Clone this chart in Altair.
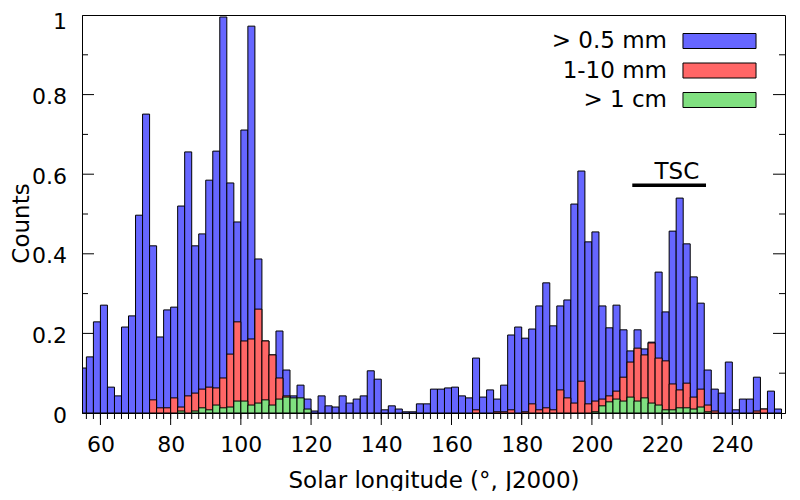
import altair as alt
import pandas as pd

# ---------------- data ----------------
bin_start = list(range(54, 254, 2))   # 2-degree bins, start values
bin_width = 2

blue_vals = [
    0.113, 0.141, 0.229, 0.271, 0.065, 0.043, 0.216, 0.244, 0.497, 0.751,   # 54-72
    0.420, 0.191, 0.259, 0.266, 0.520, 0.656, 0.420, 0.450, 0.585, 0.658,   # 74-92
    0.995, 0.578, 0.480, 0.711, 0.972, 0.387, 0.181, 0.146, 0.206, 0.108,   # 94-112
    0.043, 0.070, 0.035, 0.005, 0.043, 0.018, 0.015, 0.043, 0.025, 0.035,   # 114-132
    0.043, 0.106, 0.085, 0.008, 0.018, 0.010, 0.003, 0.003, 0.023, 0.023,   # 134-152
    0.060, 0.060, 0.063, 0.065, 0.043, 0.038, 0.138, 0.040, 0.058, 0.035,   # 154-172
    0.070, 0.196, 0.216, 0.188, 0.211, 0.269, 0.327, 0.219, 0.269, 0.284,   # 174-192
    0.525, 0.608, 0.430, 0.455, 0.269, 0.214, 0.271, 0.209, 0.156, 0.209,   # 194-212
    0.161, 0.178, 0.354, 0.254, 0.457, 0.540, 0.425, 0.342, 0.276, 0.108,   # 214-232
    0.060, 0.050, 0.128, 0.008, 0.035, 0.035, 0.090, 0.010, 0.055, 0.010,   # 234-252
]

red_start = [74, 76, 78, 80, 82, 84, 86, 88, 90, 92, 94, 96, 98, 100, 102, 104,
             106, 108, 110, 112, 166, 172, 174, 176, 180, 182, 184, 186, 188,
             190, 192, 194, 196, 198, 200, 202, 204, 206, 208, 210, 212, 214,
             216, 218, 220, 222, 224, 226, 228, 230, 232, 234, 246, 248]
red_vals = [0.033, 0.013, 0.013, 0.038, 0.015, 0.043, 0.050, 0.060, 0.065, 0.063,
            0.088, 0.148, 0.229, 0.181, 0.186, 0.261, 0.181, 0.146, 0.088, 0.043,
            0.008, 0.003, 0.003, 0.008, 0.003, 0.023, 0.008, 0.013, 0.008,
            0.058, 0.038, 0.025, 0.080, 0.023, 0.030, 0.035, 0.043, 0.055, 0.090,
            0.128, 0.163, 0.146, 0.176, 0.138, 0.131, 0.073, 0.058, 0.075, 0.040,
            0.060, 0.020, 0.005, 0.005, 0.010]

green_start = [82, 86, 88, 90, 92, 94, 96, 98, 100, 102, 104, 106, 108, 110, 112,
               114, 116, 118, 200, 202, 204, 206, 208, 210, 212, 214, 216, 218,
               220, 222, 224, 226, 228, 230, 232]
green_vals = [0.005, 0.005, 0.013, 0.008, 0.020, 0.013, 0.015, 0.030, 0.030, 0.020,
              0.025, 0.033, 0.020, 0.035, 0.040, 0.038, 0.038, 0.010, 0.003, 0.018,
              0.028, 0.035, 0.030, 0.040, 0.030, 0.038, 0.025, 0.020, 0.008, 0.008,
              0.013, 0.013, 0.010, 0.015, 0.003]

series_names = ["> 0.5 mm", "1-10 mm", "> 1 cm"]
series_colors = ["#6666ff", "#ff6666", "#80e080"]

x_domain = [54.75, 255.0]
y_domain = [0, 1]

x_major = [60, 80, 100, 120, 140, 160, 180, 200, 220, 240]
x_minor = list(range(56, 256, 2))
y_major = [0.2, 0.4, 0.6, 0.8]
y_minor = [0.1, 0.3, 0.5, 0.7, 0.9]
y_labels = [0, 0.2, 0.4, 0.6, 0.8, 1]

tsc_label = ["TSC"]
tsc_start = [211.5]
tsc_end = [232.5]
tsc_line_y = [0.572]
tsc_text_x = [224.2]
tsc_text_y = [0.606]

# ---------------- build tables ----------------
def frame(starts, vals, name):
    return pd.DataFrame({"start": starts,
                         "end": [s + bin_width for s in starts],
                         "value": vals,
                         "series": name})

bars_df = pd.concat([frame(bin_start, blue_vals, series_names[0]),
                     frame(red_start, red_vals, series_names[1]),
                     frame(green_start, green_vals, series_names[2])],
                    ignore_index=True)

W, H = 703, 398
FONT = "DejaVu Sans"

xs = alt.Scale(domain=x_domain, nice=False, zero=False)
ys = alt.Scale(domain=y_domain, nice=False)

x_axis = alt.Axis(values=x_major, format="d", title="Solar longitude (°, J2000)",
                  ticks=False, tickSize=0, labelPadding=21.5, grid=False,
                  labelFont=FONT, labelFontSize=22, labelColor="black",
                  titleFont=FONT, titleFontSize=23, titleFontWeight="normal",
                  titleColor="black", titleBaseline="alphabetic", titleY=74,
                  domain=True, domainColor="black", domainWidth=1, zindex=1,
                  labelFlush=False)
y_axis = alt.Axis(values=y_labels, format="~g", title="Counts",
                  ticks=False, tickSize=0, labelPadding=15.5, grid=False,
                  labelFont=FONT, labelFontSize=22, labelColor="black",
                  labelBaseline="middle",
                  labelOffset={"condition": {"test": "datum.value === 1", "value": 6.5},
                               "value": 2},
                  labelFlush=False,
                  titleFont=FONT, titleFontSize=23, titleFontWeight="normal",
                  titleColor="black", titleAngle=270, titleBaseline="alphabetic",
                  titleAlign="center", titleX=-54, titleY=208,
                  domain=True, domainColor="black", domainWidth=1, zindex=1)

# ticks (drawn through the scales)
xmin_df = pd.DataFrame({"v": x_minor})
xmaj_df = pd.DataFrame({"v": x_major})
ymin_df = pd.DataFrame({"v": y_minor})
ymaj_df = pd.DataFrame({"v": y_major})

tick_style = dict(color="black", strokeWidth=1)
xt_minor = alt.Chart(xmin_df).mark_rule(**tick_style).encode(
    x=alt.X("v:Q", scale=xs, axis=x_axis), y=alt.value(H), y2=alt.value(H + 6))
xt_major = alt.Chart(xmaj_df).mark_rule(**tick_style).encode(
    x=alt.X("v:Q", scale=xs), y=alt.value(H), y2=alt.value(H + 12))
yl_minor = alt.Chart(ymin_df).mark_rule(**tick_style).encode(
    y=alt.Y("v:Q", scale=ys, axis=y_axis), x=alt.value(0), x2=alt.value(6))
yl_major = alt.Chart(ymaj_df).mark_rule(**tick_style).encode(
    y=alt.Y("v:Q", scale=ys), x=alt.value(0), x2=alt.value(12))
yr_minor = alt.Chart(ymin_df).mark_rule(**tick_style).encode(
    y=alt.Y("v:Q", scale=ys), x=alt.value(W - 6), x2=alt.value(W))
yr_major = alt.Chart(ymaj_df).mark_rule(**tick_style).encode(
    y=alt.Y("v:Q", scale=ys), x=alt.value(W - 12), x2=alt.value(W))

bars = alt.Chart(bars_df).mark_rect(stroke="black", strokeWidth=1, clip=True,
                                     opacity=1).encode(
    x=alt.X("start:Q", scale=xs),
    x2="end:Q",
    y=alt.Y("value:Q", scale=ys),
    y2=alt.datum(0),
    fill=alt.Fill("series:N",
                  scale=alt.Scale(domain=series_names, range=series_colors),
                  legend=alt.Legend(orient="none", legendX=626, legendY=14.5,
                                    title=None,
                                    symbolType="M-4.87,-1H4.87V1H-4.87Z",
                                    symbolSize=225, symbolStrokeColor="black",
                                    symbolStrokeWidth=1, symbolOpacity=1,
                                    labelFont=FONT, labelFontSize=23,
                                    labelColor="black", labelAlign="right",
                                    labelOffset={"expr": "-64"}, rowPadding=5.5,
                                    labelLimit=300)),
)

tsc_df = pd.DataFrame({"x": tsc_start, "x2": tsc_end, "y": tsc_line_y,
                       "tx": tsc_text_x, "ty": tsc_text_y, "label": tsc_label})
tsc_line = alt.Chart(tsc_df).mark_rule(color="black", strokeWidth=3.5,
                                       strokeCap="butt").encode(
    x=alt.X("x:Q", scale=xs), x2="x2:Q", y=alt.Y("y:Q", scale=ys))
tsc_text = alt.Chart(tsc_df).mark_text(font=FONT, fontSize=23, color="black",
                                       baseline="middle", align="center").encode(
    x=alt.X("tx:Q", scale=xs), y=alt.Y("ty:Q", scale=ys), text="label:N")

chart = alt.layer(xt_minor, xt_major, yl_minor, yl_major, yr_minor, yr_major,
                  bars, tsc_line, tsc_text).properties(
    width=W, height=H,
    autosize=alt.AutoSizeParams(type="none"),
    padding={"left": 74, "top": 7, "right": 5, "bottom": 78},
    background="white",
).configure_view(stroke="black", strokeWidth=1)

chart.save("out.html", embed_options={"renderer": "svg", "actions": False})
